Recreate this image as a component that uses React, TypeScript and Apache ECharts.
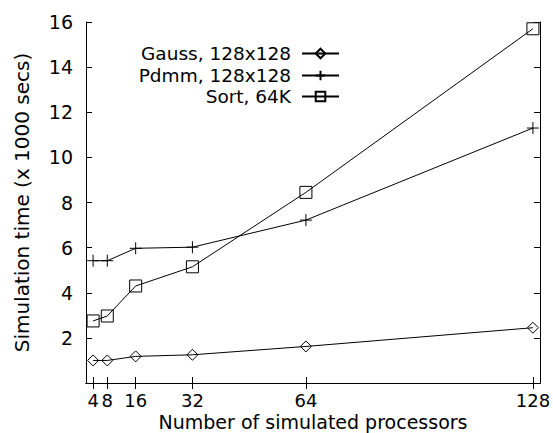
import React, { useEffect, useRef } from "react";
import * as echarts from "echarts";

const processors = [4, 8, 16, 32, 64, 128];
const gauss = [1.0, 1.0, 1.18, 1.25, 1.62, 2.45];
const pdmm = [5.42, 5.42, 5.97, 6.02, 7.22, 11.3];
const sort = [2.75, 2.97, 4.3, 5.15, 8.45, 15.7];
const seriesNames = ["Gauss, 128x128", "Pdmm, 128x128", "Sort, 64K"];
const xTicks = [4, 8, 16, 32, 64, 128];

const FONT = "DejaVu Sans";
const PLUS = "path://M5,0L5,10M0,5L10,5";

export default function App() {
  const ref = useRef<HTMLDivElement>(null);
  useEffect(() => {
    if (!ref.current) return;
    const chart = echarts.init(ref.current, null, { renderer: "svg" });
    const mk = (name: string, vals: number[], symbol: string, size: number) => ({
      name,
      type: "line",
      data: processors.map((p, i) => [p, vals[i]]),
      symbol,
      symbolSize: size,
      showAllSymbol: true,
      lineStyle: { color: "#000", width: 1 },
      itemStyle: { color: "none", borderColor: "#000", borderWidth: 1 },
      emphasis: { disabled: true },
    });
    const legendRow = (name: string, top: number) => ({
      data: [name],
      orient: "vertical",
      align: "right",
      right: 213,
      top,
      padding: 0,
      itemWidth: 37,
      itemHeight: 12,
      selectedMode: false,
      textStyle: {
        fontFamily: FONT,
        fontSize: 18.5,
        lineHeight: 18,
        color: "#000",
        padding: [0, 6, 0, 0],
      },
    });
    const tickStyle = { show: true, inside: true, length: 6, lineStyle: { color: "#000" } };
    chart.setOption({
      animation: false,
      textStyle: { fontFamily: FONT },
      grid: { left: 86, right: 13, top: 22, bottom: 50, outerBoundsMode: "none", containLabel: false },
      legend: [legendRow(seriesNames[0], 44), legendRow(seriesNames[1], 66), legendRow(seriesNames[2], 87)],
      xAxis: [
        {
          type: "value",
          min: 2,
          max: 130,
          name: "Number of simulated processors",
          nameLocation: "middle",
          nameGap: 30,
          nameMoveOverlap: false,
          nameTextStyle: { fontFamily: FONT, fontSize: 19, color: "#000", lineHeight: 18 },
          axisLine: { show: true, lineStyle: { color: "#000" } },
          axisTick: { ...tickStyle, customValues: xTicks },
          axisLabel: {
            customValues: xTicks,
            fontFamily: FONT,
            fontSize: 18,
            lineHeight: 18,
            color: "#000",
            margin: 8,
          },
          splitLine: { show: false },
        },
        {
          type: "value",
          position: "top",
          min: 2,
          max: 130,
          axisLine: { show: true, lineStyle: { color: "#000" } },
          axisTick: { ...tickStyle, customValues: xTicks },
          axisLabel: { show: false },
          splitLine: { show: false },
        },
      ],
      yAxis: [
        {
          type: "value",
          min: 0,
          max: 16,
          interval: 2,
          name: "Simulation time (x 1000 secs)",
          nameLocation: "middle",
          nameGap: 54,
          nameMoveOverlap: false,
          nameTextStyle: { fontFamily: FONT, fontSize: 20, color: "#000" },
          axisLine: { show: true, lineStyle: { color: "#000" } },
          axisTick: tickStyle,
          axisLabel: {
            fontFamily: FONT,
            fontSize: 19,
            color: "#000",
            margin: 13,
            formatter: (v: number) => (v === 0 ? "" : String(v)),
          },
          splitLine: { show: false },
        },
        {
          type: "value",
          position: "right",
          min: 0,
          max: 16,
          interval: 2,
          axisLine: { show: true, lineStyle: { color: "#000" } },
          axisTick: tickStyle,
          axisLabel: { show: false },
          splitLine: { show: false },
        },
      ],
      series: [
        mk(seriesNames[0], gauss, "diamond", 11),
        mk(seriesNames[1], pdmm, PLUS, 12),
        mk(seriesNames[2], sort, "rect", 12),
      ],
    });
    return () => chart.dispose();
  }, []);
  return <div ref={ref} style={{ width: 553, height: 433, position: "absolute", left: 0, top: 0, background: "#fff" }} />;
}
